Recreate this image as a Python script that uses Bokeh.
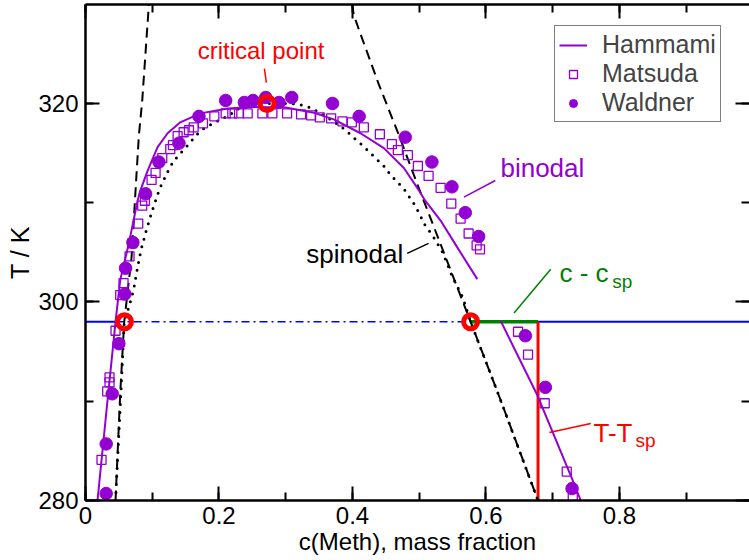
from bokeh.plotting import figure
from bokeh.models import (Range1d, LinearAxis, SingleIntervalTicker, Legend, LegendItem,
                          CustomJSTickFormatter)
from bokeh.core.properties import value
from bokeh.embed import file_html
from bokeh.resources import INLINE

FONT = "Liberation Sans"
PURPLE = "#9400D3"

# ---------------- data ----------------
# Hammami binodal (upper part)
ham_x = [0.018, 0.033, 0.045, 0.052, 0.065, 0.078, 0.082, 0.093, 0.108, 0.123, 0.142, 0.172,
         0.213, 0.25, 0.30, 0.34, 0.372, 0.412, 0.447, 0.477, 0.497, 0.509, 0.532, 0.557, 0.587]
ham_T = [280, 290.1, 298, 302.2, 305.9, 310.2, 311.2, 313.2, 315.6, 317.0, 318.1, 319.0,
         319.5, 319.65, 319.6, 319.1, 318.4, 317.0, 315.5, 313.5, 311.5, 310.2, 308.2, 305.5, 302.3]
# Hammami binodal (lower right part)
ham2_x = [0.622, 0.677, 0.727, 0.742]
ham2_T = [298.1, 290.6, 282.5, 280]

# Matsuda (open squares)
mat_x = [0.024, 0.0325, 0.036, 0.036, 0.045, 0.052, 0.057, 0.066, 0.070, 0.079, 0.085, 0.089,
         0.099, 0.105, 0.115, 0.127, 0.131, 0.138, 0.147, 0.155, 0.162, 0.176, 0.193, 0.210,
         0.220, 0.230, 0.243, 0.265, 0.280, 0.302, 0.323, 0.338, 0.351, 0.368, 0.385, 0.399,
         0.417, 0.441, 0.459, 0.468, 0.483, 0.498, 0.514, 0.532, 0.548, 0.562, 0.574, 0.586,
         0.591, 0.648, 0.663, 0.688, 0.721, 0.730]
mat_T = [284.1, 291.0, 291.9, 292.4, 297.1, 300.7, 301.9, 304.6, 305.9, 307.9, 309.7, 310.2,
         312.3, 313.0, 314.5, 315.4, 315.8, 316.7, 317.1, 317.3, 317.6, 318.0, 318.7, 319.0,
         319.0, 319.0, 319.0, 319.0, 319.0, 319.0, 318.9, 318.8, 318.6, 318.5, 318.2, 318.1,
         317.6, 316.9, 315.9, 315.3, 314.8, 313.7, 312.7, 311.5, 309.9, 308.4, 306.9, 305.7,
         305.3, 297.0, 294.7, 289.8, 282.9, 280.3]

# Waldner (filled circles)
wal_x = [0.031, 0.031, 0.040, 0.050, 0.059, 0.060, 0.071, 0.090, 0.110, 0.140, 0.170, 0.210,
         0.238, 0.251, 0.270, 0.290, 0.309, 0.370, 0.410, 0.479, 0.519, 0.549, 0.569, 0.589,
         0.659, 0.689, 0.729]
wal_T = [280.7, 285.7, 290.75, 295.8, 300.8, 303.4, 306.0, 310.9, 314.1, 316.0, 318.7, 320.3,
         320.1, 320.3, 320.6, 320.1, 320.6, 320.0, 318.7, 316.6, 314.1, 311.6, 309.0, 306.6,
         296.6, 291.4, 281.2]

# spinodal (dotted)
spi_x = [0.045, 0.053, 0.058, 0.065, 0.072, 0.077, 0.083, 0.091, 0.100, 0.111, 0.123, 0.131,
         0.141, 0.152, 0.162, 0.173, 0.186, 0.200, 0.215, 0.227, 0.257, 0.272, 0.307, 0.321,
         0.336, 0.351, 0.377, 0.390, 0.401, 0.413, 0.424, 0.436, 0.447, 0.457, 0.467, 0.477,
         0.494, 0.509, 0.520, 0.535, 0.550, 0.565, 0.577, 0.622, 0.678]
spi_T = [280, 290.75, 298, 299.5, 301.2, 303.1, 305.2, 307.2, 309.2, 311.4, 313.1, 314.1,
         314.9, 315.7, 316.5, 317.3, 317.8, 318.3, 318.8, 319.4, 320.0, 320.0, 320.0, 319.9,
         319.6, 319.06, 317.95, 317.3, 316.6, 315.9, 315.2, 314.4, 313.7, 312.8, 312.1, 311.4,
         309.7, 307.7, 306.7, 305.0, 302.5, 300.5, 298, 290.1, 280]

# dashed lines
dl_x = [0.045, 0.052, 0.058, 0.069, 0.076, 0.080, 0.085, 0.095]
dl_T = [280, 290.75, 298, 304.5, 312.4, 316.8, 320.3, 330]
dr_x = [0.3995, 0.402, 0.412, 0.439, 0.469, 0.497, 0.577, 0.622, 0.678]
dr_T = [330, 328.9, 327, 322, 316.9, 311.9, 298, 290.1, 280]

# special points (red circles)
pt_x = [0.0584, 0.272, 0.577]
pt_T = [298.0, 320.0, 298.0]

# horizontal isotherm T = 298 K
T_iso = 298.0
iso_solid1 = [0.0, 0.045]
iso_dashdot = [0.045, 0.577]
iso_green = [0.577, 0.678]
iso_solid2 = [0.678, 0.995]
x_red = 0.678

# ---------------- figure ----------------
p = figure(width=749, height=560, x_range=Range1d(0, 0.9948), y_range=Range1d(280, 329.97),
           output_backend="svg", toolbar_location=None,
           min_border_left=85, min_border_right=0, min_border_top=4, min_border_bottom=60)
p.grid.visible = False
p.outline_line_color = None
p.background_fill_color = "white"
p.border_fill_color = "white"

blank = CustomJSTickFormatter(code="return ''")

def style_axis(ax, labels=True):
    ax.axis_line_width = 2.5
    ax.axis_line_color = "black"
    ax.major_tick_in = 14
    ax.major_tick_out = 0
    ax.minor_tick_in = 8
    ax.minor_tick_out = 0
    ax.major_tick_line_width = 2
    ax.minor_tick_line_width = 2
    ax.major_tick_line_color = "black"
    ax.minor_tick_line_color = "black"
    ax.major_label_text_font = FONT
    ax.major_label_text_color = "black"
    if labels:
        ax.major_label_text_font_size = "24px"
    else:
        ax.formatter = blank
        ax.major_label_text_font_size = "1px"
        ax.major_label_standoff = 0

xa = p.xaxis[0]
xa.ticker = SingleIntervalTicker(interval=0.2, num_minor_ticks=2)
style_axis(xa)
xa.major_label_standoff = 6
xa.axis_label = "c(Meth), mass fraction"
xa.axis_label_text_font = FONT
xa.axis_label_text_font_size = "24px"
xa.axis_label_text_font_style = "normal"
xa.axis_label_text_color = "black"
xa.axis_label_standoff = 1

ya = p.yaxis[0]
ya.ticker = SingleIntervalTicker(interval=20, num_minor_ticks=2)
style_axis(ya)
ya.major_label_standoff = 7
ya.axis_label = "T / K"
ya.axis_label_text_font = FONT
ya.axis_label_text_font_size = "25px"
ya.axis_label_text_font_style = "normal"
ya.axis_label_text_color = "black"
ya.axis_label_standoff = 1

top = LinearAxis(ticker=SingleIntervalTicker(interval=0.2, num_minor_ticks=2))
style_axis(top, labels=False)
p.add_layout(top, "above")
right = LinearAxis(ticker=SingleIntervalTicker(interval=20, num_minor_ticks=2))
style_axis(right, labels=False)
right.axis_line_color = None
p.add_layout(right, "right")

# isotherm
p.line(iso_solid1, [T_iso, T_iso], line_color="blue", line_width=2)
p.line(iso_dashdot, [T_iso, T_iso], line_color="blue", line_width=1.5, line_dash="8 4 2 4")
p.line(iso_solid2, [T_iso, T_iso], line_color="blue", line_width=2)
p.line(iso_green, [T_iso, T_iso], line_color="green", line_width=3.5)
p.line([x_red, x_red], [T_iso, 280], line_color="red", line_width=3)

# spinodal / dashed
p.line(dl_x, dl_T, line_color="black", line_width=2, line_dash="10 6")
p.line(dr_x, dr_T, line_color="black", line_width=2, line_dash="10 6")
p.line(spi_x, spi_T, line_color="black", line_width=3, line_dash="0 8", line_cap="round")

# Hammami
r_h = p.line(ham_x, ham_T, line_color=PURPLE, line_width=2)
p.line(ham2_x, ham2_T, line_color=PURPLE, line_width=2)

r_m = p.scatter(mat_x, mat_T, marker="square", size=9, line_color=PURPLE, line_width=1.3,
                fill_color=None)
r_w = p.scatter(wal_x, wal_T, marker="circle", size=12.5, line_color=PURPLE, fill_color=PURPLE)

p.scatter(pt_x, pt_T, marker="circle", size=14, line_color="red", line_width=5, fill_color=None)

# annotation pointer lines
p.line([0.268, 0.271], [323.5, 322.1], line_color="red", line_width=1.5)
p.line([0.567, 0.614], [310.56, 312.24], line_color=PURPLE, line_width=1.5)
p.line([0.482, 0.514], [304.9, 305.9], line_color="black", line_width=1.5)
p.line([0.642, 0.697], [298.9, 303.3], line_color="green", line_width=1.5)
p.line([0.695, 0.757], [286.85, 287.76], line_color="red", line_width=1.5)

# annotation texts
p.text(x=[0.263], y=[325.3], text=["critical point"], text_color="red",
       text_font=value(FONT), text_font_size="24px", text_align="center", text_baseline="middle")
p.text(x=[0.6217], y=[313.5], text=["binodal"], text_color=PURPLE,
       text_font=value(FONT), text_font_size="26px", text_align="left", text_baseline="middle")
p.text(x=[0.476], y=[304.8], text=["spinodal"], text_color="black",
       text_font=value(FONT), text_font_size="26px", text_align="right", text_baseline="middle")
p.text(x=[0.710], y=[302.97], text=["c - c"], text_color="green",
       text_font=value(FONT), text_font_size="26px", text_align="left", text_baseline="alphabetic")
p.text(x=[0.789], y=[302.07], text=["sp"], text_color="green",
       text_font=value(FONT), text_font_size="19px", text_align="left", text_baseline="alphabetic")
p.text(x=[0.761], y=[286.85], text=["T-T"], text_color="red",
       text_font=value(FONT), text_font_size="26px", text_align="left", text_baseline="alphabetic")
p.text(x=[0.824], y=[286.05], text=["sp"], text_color="red",
       text_font=value(FONT), text_font_size="19px", text_align="left", text_baseline="alphabetic")

legend = Legend(items=[LegendItem(label="Hammami", renderers=[r_h]),
                       LegendItem(label="Matsuda", renderers=[r_m]),
                       LegendItem(label="Waldner", renderers=[r_w])],
                location=(469, 378), label_text_font=FONT, label_text_font_size="25px",
                glyph_width=28, glyph_height=20, label_height=20, label_standoff=15,
                padding=4, spacing=0, margin=0, border_line_color="black",
                border_line_width=1.5, background_fill_alpha=1.0)
p.add_layout(legend)

open("out.html", "w").write(file_html(p, INLINE))
